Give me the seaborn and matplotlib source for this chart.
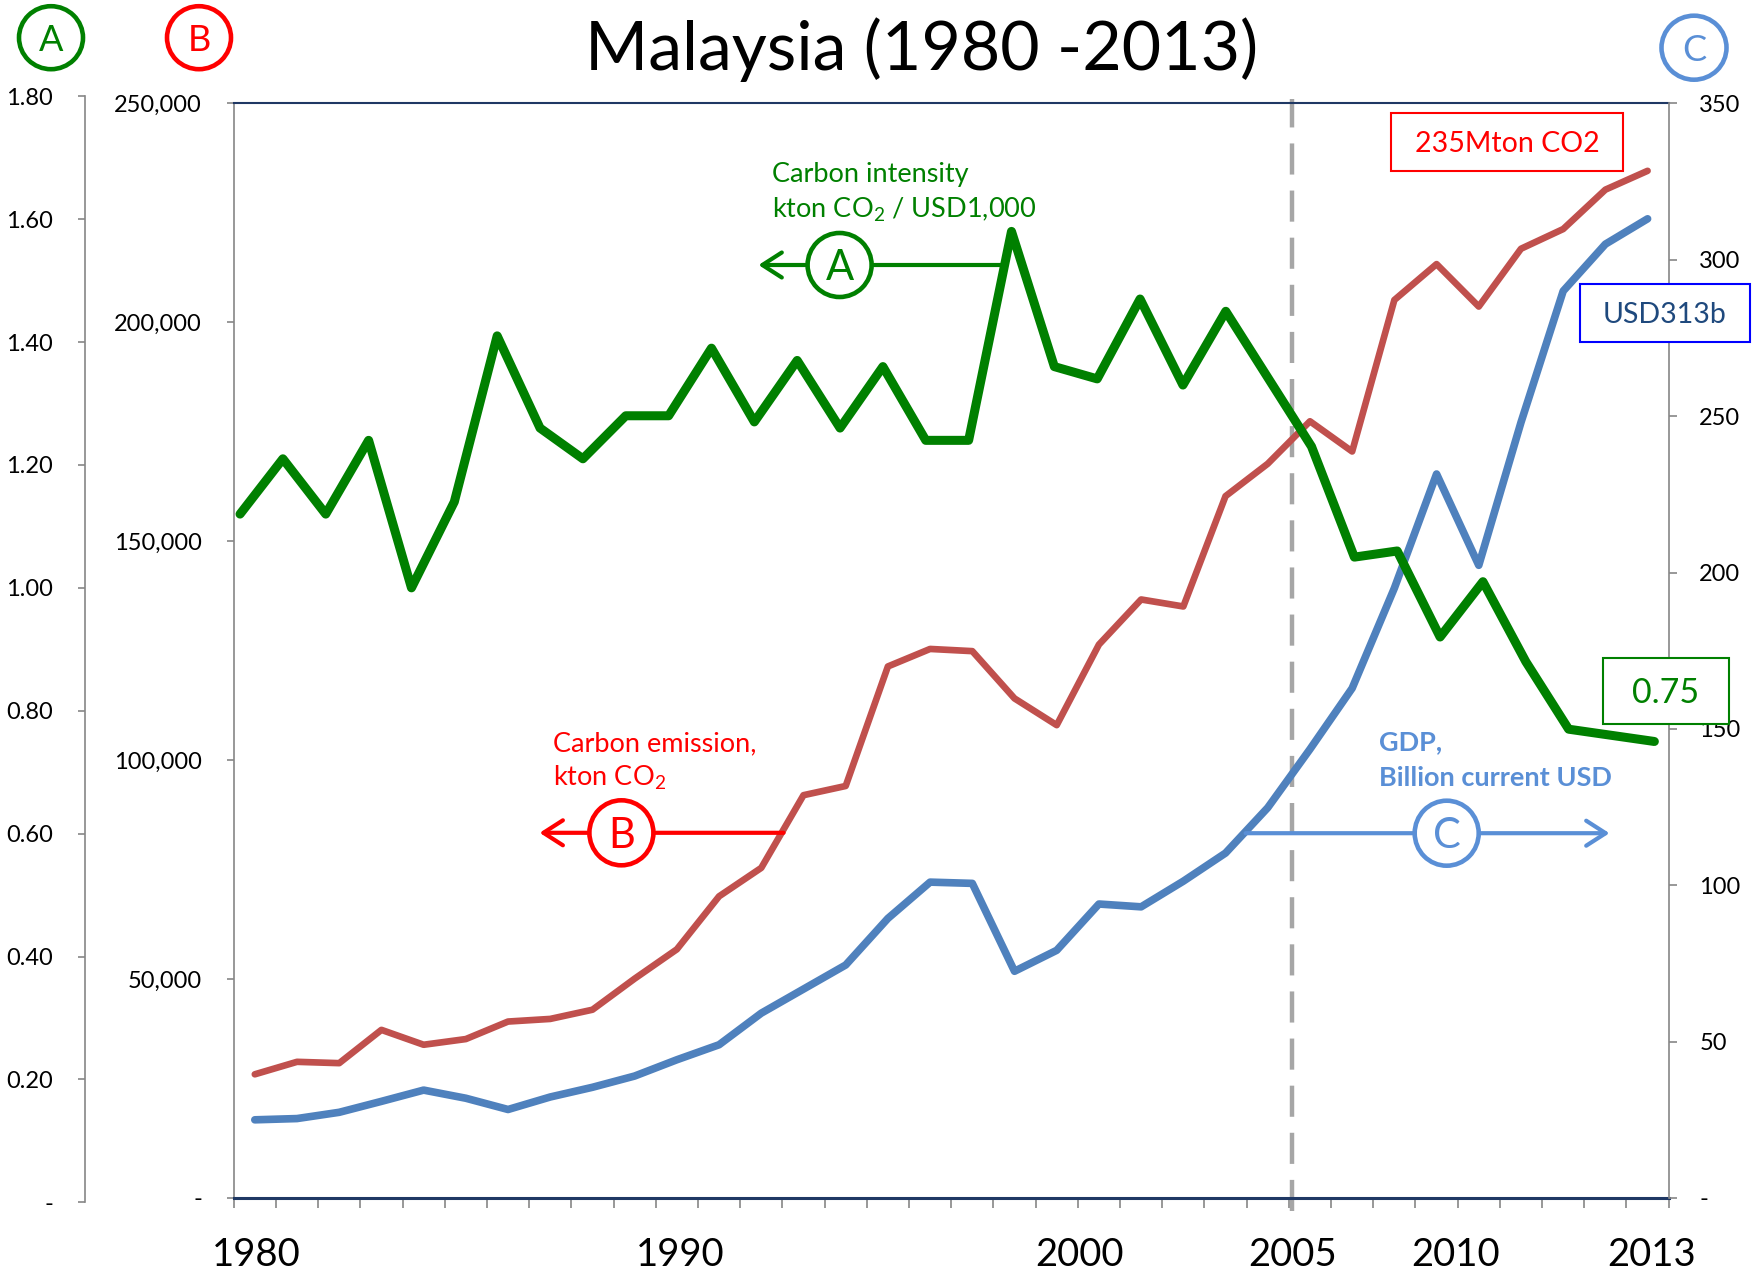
import numpy as np
import pandas as pd
import matplotlib
matplotlib.use("Agg")
import matplotlib.pyplot as plt
import seaborn as sns
from matplotlib.patches import Ellipse, FancyArrowPatch, Rectangle

# Malaysia 1980-2013
years = list(range(1980, 2014))
# A: carbon intensity, kton CO2 / USD1,000
intensity = [1.12, 1.21, 1.12, 1.24, 1.00, 1.14, 1.41, 1.26, 1.21, 1.28,
             1.28, 1.39, 1.27, 1.37, 1.26, 1.36, 1.24, 1.24, 1.58, 1.36,
             1.34, 1.47, 1.33, 1.45, 1.34, 1.23, 1.05, 1.06, 0.92, 1.01,
             0.88, 0.77, 0.76, 0.75]
# B: carbon emission, kton CO2
emission = [28250, 31100, 30800, 38400, 35000, 36300, 40300, 40900, 43000, 50100,
            56800, 68900, 75400, 92000, 94100, 121400, 125400, 124900, 114100, 108000,
            126400, 136700, 135100, 160300, 167700, 177400, 170500, 205100, 213300, 203600,
            216800, 221300, 230300, 234600]
# C: GDP, billion current USD
gdp = [25.0, 25.4, 27.4, 30.9, 34.5, 31.9, 28.3, 32.3, 35.4, 39.0,
       44.2, 49.0, 59.1, 66.8, 74.5, 89.4, 101.0, 100.6, 72.5, 79.2,
       94.0, 93.1, 101.3, 110.3, 124.8, 143.5, 163.0, 195.0, 231.5, 202.3,
       248.0, 290.0, 305.0, 313.1]

year_labels = ["1980", "1990", "2000", "2005", "2010", "2013"]
year_label_pos = [1980.03, 1990.07, 1999.55, 2004.6, 2008.45, 2013.1]
split_year = 2004.58

df = pd.DataFrame({"year": years, "intensity": intensity,
                   "emission": emission, "gdp": gdp})

GREEN = "#008000"
RED = "#C0504D"
BRIGHT_RED = "#FF0000"
BLUE = "#4F81BD"
LIGHT_BLUE = "#5A8FD6"
AXIS_GRAY = "#868686"
NAVY = "#1F3864"

sns.set_theme(style="white")
plt.rcParams["font.family"] = ["Lato", "DejaVu Sans"]
plt.rcParams["mathtext.fontset"] = "custom"
plt.rcParams["mathtext.rm"] = "Lato"
plt.rcParams["mathtext.bf"] = "Lato:bold"

FW, FH = 1762, 1273
TICK_SIZE = 17
NOTE_SIZE = 19.5


def fx(x):
    return x / FW


def fy(y):
    return 1 - y / FH


fig = plt.figure(figsize=(FW / 100, FH / 100), dpi=100)
ax_b = fig.add_axes([fx(233.7), fy(1198), fx(1668.7) - fx(233.7), fy(103.4) - fy(1198)])
ax_c = ax_b.twinx()
ax_a = fig.add_axes([fx(218.6), fy(1202.4), fx(1675.8) - fx(218.6), fy(96.2) - fy(1202.4)])
ax_a.patch.set_alpha(0)

sns.lineplot(data=df, x="year", y="emission", ax=ax_b, color=RED, lw=4.8)
sns.lineplot(data=df, x="year", y="gdp", ax=ax_c, color=BLUE, lw=5.5)
sns.lineplot(data=df, x="year", y="intensity", ax=ax_a, color=GREEN, lw=6.5)

for ax in (ax_a, ax_b, ax_c):
    ax.set_xlim(1979.5, 2013.5)
    ax.set_xlabel("")
    ax.set_ylabel("")
    ax.grid(False)

# B axis (left inner) + x axis
ax_b.set_ylim(0, 250000)
b_ticks = np.arange(0, 250001, 50000)
ax_b.set_yticks(b_ticks, ["-"] + [f"{v:,}" for v in b_ticks[1:]])
ax_b.tick_params(axis="y", left=True, direction="out", length=5.3, width=1.2,
                 color=AXIS_GRAY, pad=17.5, labelsize=TICK_SIZE, labelcolor="black")
ax_b.set_xticks(year_label_pos, year_labels)
ax_b.set_xticks(np.arange(1979.5, 2014, 1), minor=True)
ax_b.tick_params(axis="x", which="major", bottom=True, length=0, pad=28,
                 labelsize=27.5, labelcolor="black")
ax_b.tick_params(axis="x", which="minor", bottom=True, direction="out", length=7,
                 width=1.2, color=AXIS_GRAY)
ax_b.spines["left"].set_color(AXIS_GRAY)
ax_b.spines["left"].set_linewidth(1.2)
ax_b.spines["top"].set_color(NAVY)
ax_b.spines["top"].set_linewidth(1.5)
ax_b.spines["bottom"].set_color(NAVY)
ax_b.spines["bottom"].set_linewidth(2.2)
ax_b.spines["right"].set_visible(False)

ax_b.axvline(split_year, ymin=-0.012, ymax=1.004, clip_on=False, color="#A6A6A6",
             lw=3.2, dashes=(7, 3.6), zorder=1)

# C axis (right)
ax_c.set_ylim(0, 350)
c_ticks = np.arange(0, 351, 50)
ax_c.set_yticks(c_ticks, ["-"] + [str(v) for v in c_ticks[1:]])
ax_c.tick_params(axis="y", right=True, left=False, direction="out", length=6, width=1.2,
                 color=AXIS_GRAY, pad=16, labelsize=TICK_SIZE, labelcolor="black")
for s in ("top", "bottom", "left"):
    ax_c.spines[s].set_visible(False)
ax_c.spines["right"].set_color(AXIS_GRAY)
ax_c.spines["right"].set_linewidth(1.2)

# A axis (left outer)
ax_a.set_ylim(0, 1.8)
a_ticks = np.round(np.arange(0, 1.81, 0.2), 2)
ax_a.set_yticks(a_ticks, ["-"] + [f"{v:.2f}" for v in a_ticks[1:]])
ax_a.set_xticks([])
for s in ("top", "bottom", "right"):
    ax_a.spines[s].set_visible(False)
ax_a.spines["left"].set_position(("axes", -0.0917))
ax_a.spines["left"].set_color(AXIS_GRAY)
ax_a.spines["left"].set_linewidth(1.2)
ax_a.tick_params(axis="y", left=True, direction="out", length=5.4, width=1.2,
                 color=AXIS_GRAY, pad=17.6, labelsize=TICK_SIZE, labelcolor="black")

# title
fig.text(fx(921.5), fy(69.7), "Malaysia (1980 -2013)", fontsize=49,
         ha="center", va="baseline", color="black")


def circled(cx, cy, letter, color, size, w=64, h=63):
    fig.add_artist(Ellipse((fx(cx), fy(cy)), w / FW, h / FH, transform=fig.transFigure,
                           fc="white", ec=color, lw=3.3, zorder=5))
    fig.text(fx(cx), fy(cy + 0.497 * size), letter, color=color, fontsize=size,
             ha="center", va="baseline", zorder=6)


def arrow(x0, x1, y, color):
    fig.add_artist(FancyArrowPatch((fx(x0), fy(y)), (fx(x1), fy(y)),
                                   transform=fig.transFigure,
                                   arrowstyle="->,head_length=14,head_width=9",
                                   lw=3, color=color, shrinkA=0, shrinkB=0, zorder=4))


def boxed(x0, y0, x1, y1, text, edge, tcolor, size):
    fig.add_artist(Rectangle((fx(x0), fy(y1)), (x1 - x0) / FW, (y1 - y0) / FH,
                             transform=fig.transFigure, fc="white", ec=edge, lw=1.5,
                             zorder=5))
    fig.text(fx((x0 + x1) / 2), fy((y0 + y1) / 2 + 0.497 * size), text, color=tcolor,
             fontsize=size, ha="center", va="baseline", zorder=6)


# axis markers
circled(51, 37.7, "A", GREEN, 26)
circled(199, 37.7, "B", BRIGHT_RED, 26)
circled(1694, 47.7, "C", LIGHT_BLUE, 26, w=65, h=64)

# series call-outs
arrow(1003.5, 758.5, 265, GREEN)
circled(839.6, 265, "A", GREEN, 30, w=64, h=64)
fig.text(fx(772), fy(182.4), "Carbon intensity", color=GREEN, fontsize=NOTE_SIZE,
         va="baseline")
fig.text(fx(772), fy(217.7), "kton CO$_2$ / USD1,000", color=GREEN, fontsize=NOTE_SIZE,
         va="baseline")

arrow(783.6, 539.6, 832.8, BRIGHT_RED)
circled(621.4, 832.8, "B", BRIGHT_RED, 30, w=64, h=65)
fig.text(fx(552.8), fy(751), "Carbon emission,", color=BRIGHT_RED, fontsize=NOTE_SIZE,
         va="baseline")
fig.text(fx(552.8), fy(785.3), "kton CO$_2$", color=BRIGHT_RED, fontsize=NOTE_SIZE,
         va="baseline")

arrow(1245.6, 1609.5, 833.2, LIGHT_BLUE)
circled(1446.7, 833.2, "C", LIGHT_BLUE, 30, w=64, h=65)
fig.text(fx(1378.9), fy(749.8), "GDP,", color=LIGHT_BLUE, fontsize=NOTE_SIZE,
         fontweight="bold", va="baseline")
fig.text(fx(1378.9), fy(786), "Billion current USD", color=LIGHT_BLUE, fontsize=NOTE_SIZE,
         fontweight="bold", va="baseline")

# end-value boxes
boxed(1390.7, 112.7, 1623.3, 171, "235Mton CO2", BRIGHT_RED, BRIGHT_RED, 20.5)
boxed(1580, 284, 1750, 341.7, "USD313b", "#0000FF", "#1F497D", 20.5)
boxed(1602.7, 658, 1729.3, 724, "0.75", GREEN, GREEN, 24.5)

fig.savefig("out.png", dpi=100)
